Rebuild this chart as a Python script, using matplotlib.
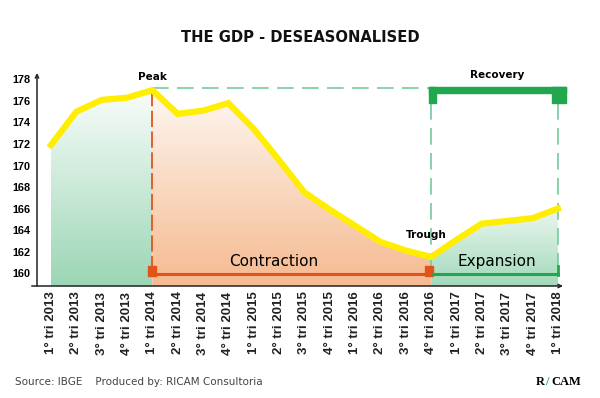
import numpy as np
import matplotlib.pyplot as plt
from matplotlib.colors import LinearSegmentedColormap
from matplotlib.patches import Rectangle

# quarterly GDP, deseasonalised (index)
quarters = ['1° tri 2013', '2° tri 2013', '3° tri 2013', '4° tri 2013',
            '1° tri 2014', '2° tri 2014', '3° tri 2014', '4° tri 2014',
            '1° tri 2015', '2° tri 2015', '3° tri 2015', '4° tri 2015',
            '1° tri 2016', '2° tri 2016', '3° tri 2016', '4° tri 2016',
            '1° tri 2017', '2° tri 2017', '3° tri 2017', '4° tri 2017',
            '1° tri 2018']
gdp = [171.9, 175.0, 176.1, 176.3, 177.0, 174.8, 175.1, 175.8, 173.4, 170.5,
       167.5, 165.9, 164.4, 162.9, 162.1, 161.5, 163.1, 164.6, 164.85, 165.1,
       166.0]
y_ticks = [160, 162, 164, 166, 168, 170, 172, 174, 176, 178]
peak_idx = 4
trough_idx = 15

GREEN = '#21a84f'
GREEN_DASH = '#76c99c'
ORANGE = '#e2531a'

fig = plt.figure(figsize=(6, 3.98), dpi=100)
ax = fig.add_axes([37 / 600, 112 / 398, 526 / 600, 213 / 398])
x = np.arange(len(gdp))
last = len(gdp) - 1
ymin, ymax = 158.8, 178.6


def grad_fill(i0, i1, top_color, bottom_color):
    xs = x[i0:i1 + 1]
    ys = np.array(gdp[i0:i1 + 1])
    poly = ax.fill_between(xs, ymin, ys, color='none', lw=0)
    cmap = LinearSegmentedColormap.from_list('g', [bottom_color, top_color])
    grad = np.linspace(0, 1, 256).reshape(-1, 1)
    im = ax.imshow(grad, cmap=cmap, origin='lower', aspect='auto',
                   extent=[xs[0], xs[-1], ymin, ys.max() + 0.3], zorder=1)
    im.set_clip_path(poly.get_paths()[0], transform=ax.transData)


grad_fill(0, peak_idx, '#fbfdfc', '#9bd6b5')
grad_fill(peak_idx, trough_idx, '#fef8f4', '#f5ba90')
grad_fill(trough_idx, last, '#eef8f2', '#a2d9ba')

# guide lines
ax.plot([peak_idx, trough_idx - 0.1], [177.25, 177.25], color=GREEN_DASH,
        lw=1.2, dashes=(10, 5), zorder=2)
ax.plot([peak_idx, peak_idx], [177.05, 160.6], color=ORANGE, lw=1.3,
        dashes=(9, 2.5), zorder=2)
for xi in (trough_idx, last):
    ax.plot([xi, xi], [175.8, 160.0], color=GREEN_DASH, lw=1.2,
            dashes=(10, 5), zorder=2)

# recovery bracket
ax.add_patch(Rectangle((trough_idx - 0.1, 176.75), last + 0.4 - trough_idx, 0.55,
                       color=GREEN, zorder=4, clip_on=False))
ax.add_patch(Rectangle((trough_idx - 0.1, 175.85), 0.28, 1.45, color=GREEN,
                       zorder=4, clip_on=False))
ax.add_patch(Rectangle((last - 0.25, 175.8), 0.55, 1.5, color=GREEN,
                       zorder=4, clip_on=False))

# contraction bracket
ax.plot([peak_idx, trough_idx], [159.9, 159.9], color=ORANGE, lw=2.2, zorder=4)
ax.add_patch(Rectangle((peak_idx - 0.17, 159.75), 0.32, 0.9, color=ORANGE, zorder=4))
ax.add_patch(Rectangle((trough_idx - 0.25, 159.75), 0.33, 0.95, color=ORANGE, zorder=4))

# expansion bracket
ax.plot([trough_idx + 0.05, last], [159.9, 159.9], color=GREEN, lw=2.2, zorder=4)
ax.plot([last, last], [159.8, 160.65], color=GREEN, lw=2, zorder=4)

# GDP line
ax.plot(x, gdp, color='#ffee00', lw=4.5, zorder=5, solid_joinstyle='miter')

ax.text(peak_idx, 178.27, 'Peak', ha='center', va='center', fontsize=7.5,
        fontweight='bold', family='DejaVu Sans', clip_on=False)
ax.text(17.6, 178.46, 'Recovery', ha='center', va='center', fontsize=7.5,
        fontweight='bold', family='DejaVu Sans', clip_on=False)
ax.text(trough_idx - 0.2, 163.5, 'Trough', ha='center', va='center',
        fontsize=7.5, fontweight='bold', family='DejaVu Sans', zorder=6)
ax.text(8.8, 161.1, 'Contraction', ha='center', va='center', fontsize=11,
        family='DejaVu Sans', zorder=6)
ax.text(17.6, 161.1, 'Expansion', ha='center', va='center', fontsize=11,
        family='DejaVu Sans', zorder=6)

ax.set_xlim(-0.55, 20.2)
ax.set_ylim(ymin, ymax)
ax.set_xticks(x)
ax.set_xticklabels(quarters, rotation=90, fontsize=9.5, family='Liberation Sans',
                   fontweight='bold', color='#222222')
ax.set_yticks(y_ticks)
ax.set_yticklabels([str(v) for v in y_ticks], fontsize=7.8,
                   family='Liberation Sans', fontweight='bold')
ax.tick_params(length=0)
ax.tick_params(axis='x', pad=4)
ax.tick_params(axis='y', pad=5)
for s in ax.spines.values():
    s.set_visible(False)
ax.annotate('', xy=(0, 1.0), xytext=(0, 0), xycoords='axes fraction',
            arrowprops=dict(arrowstyle='->', lw=1.1, color='#222222',
                            shrinkA=0, shrinkB=0, mutation_scale=6))
ax.annotate('', xy=(1.0, 0), xytext=(-0.01, 0), xycoords='axes fraction',
            arrowprops=dict(arrowstyle='->', lw=1.1, color='#222222',
                            shrinkA=0, shrinkB=0, mutation_scale=6))

fig.text(0.5, 1 - 37 / 398, 'THE GDP - DESEASONALISED', ha='center', va='center',
         fontsize=10.6, fontweight='bold', family='DejaVu Sans', color='#111111')
fig.text(15 / 600, 1 - 382 / 398, 'Source: IBGE    Produced by: RICAM Consultoria',
         ha='left', va='center', fontsize=7.5, family='DejaVu Sans',
         color='#444444')
fig.text(536 / 600, 1 - 382 / 398, 'R', ha='left', va='center', fontsize=9,
         fontweight='bold', family='Liberation Serif')
fig.text(545 / 600, 1 - 382 / 398, '/', ha='left', va='center', fontsize=9,
         fontweight='bold', family='Liberation Serif', color=GREEN)
fig.text(551 / 600, 1 - 382 / 398, 'CAM', ha='left', va='center', fontsize=9,
         fontweight='bold', family='Liberation Serif')

fig.savefig('out.png', dpi=100)
